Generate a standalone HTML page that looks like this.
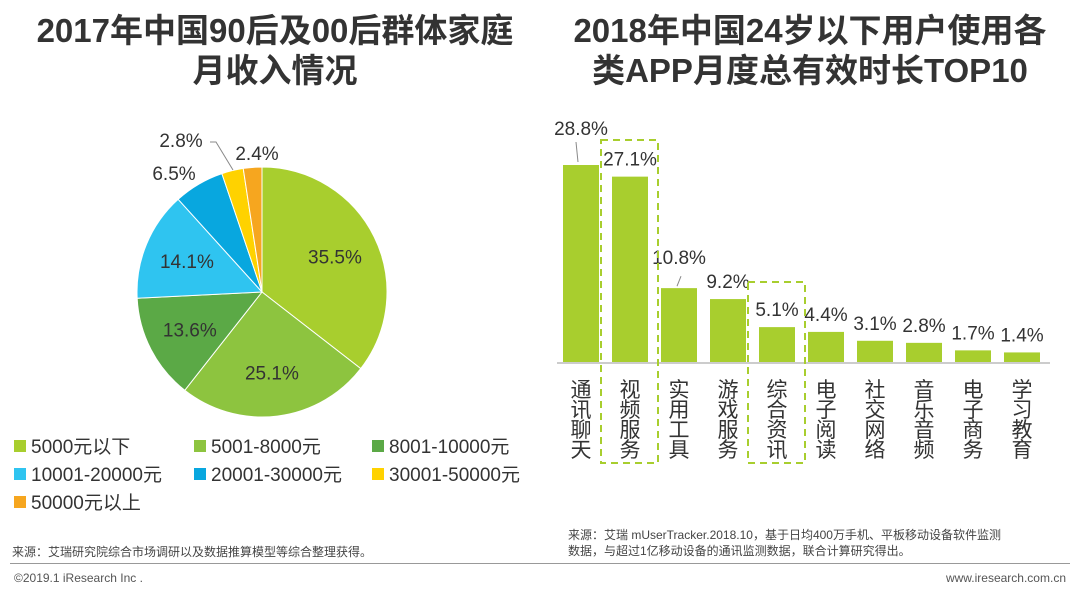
<!DOCTYPE html>
<html><head><meta charset="utf-8"><style>
body{margin:0;width:1080px;height:595px;background:#fff;font-family:"Liberation Sans","Noto Sans CJK SC",sans-serif;overflow:hidden;position:relative;color:#333}
.t{position:absolute;font-weight:bold;font-size:33px;text-align:center;line-height:40px;color:#333}
.abs{position:absolute}
</style></head><body>
<div class="t" style="left:0;top:11px;width:550px">2017年中国90后及00后群体家庭<br>月收入情况</div>
<div class="t" style="left:540px;top:11px;width:540px">2018年中国24岁以下用户使用各<br>类APP月度总有效时长TOP10</div>
<svg class="abs" style="left:0;top:0" width="1080" height="595">
<g id="pie"></g>
<g id="legend"></g>
<g id="bars"></g>
</svg>
<div class="abs" style="left:12px;top:543px;font-size:12px;color:#444">来源：艾瑞研究院综合市场调研以及数据推算模型等综合整理获得。</div>
<div class="abs" style="left:568px;top:527px;font-size:12px;color:#444;line-height:16px;width:500px">来源：艾瑞 mUserTracker.2018.10，基于日均400万手机、平板移动设备软件监测<br>数据，与超过1亿移动设备的通讯监测数据，联合计算研究得出。</div>
<div class="abs" style="left:10px;top:563px;width:1060px;height:1px;background:#999"></div>
<div class="abs" style="left:14px;top:571px;font-size:12px;color:#555">©2019.1 iResearch Inc .</div>
<div class="abs" style="right:14px;top:571px;font-size:12px;color:#555">www.iresearch.com.cn</div>
<script>
const NS='http://www.w3.org/2000/svg';
const pieLabels=['5000元以下','5001-8000元','8001-10000元','10001-20000元','20001-30000元','30001-50000元','50000元以上'];
const pieValues=[35.5,25.1,13.6,14.1,6.5,2.8,2.4];
const pieColors=['#a8ce2e','#8dc43f','#5ba946','#2fc4f0','#08a7df','#ffd200','#f6a61f'];
const barCats=['通讯聊天','视频服务','实用工具','游戏服务','综合资讯','电子阅读','社交网络','音乐音频','电子商务','学习教育'];
const barValues=[28.8,27.1,10.8,9.2,5.1,4.4,3.1,2.8,1.7,1.4];
const highlighted=[1,4];
function mk(tag,attrs,parent){const e=document.createElementNS(NS,tag);for(const k in attrs)e.setAttribute(k,attrs[k]);parent.appendChild(e);return e;}
const pie=document.getElementById('pie');
const cx=262,cy=292,r=125;
const total=pieValues.reduce((a,b)=>a+b,0);
let a0=0;
pieValues.forEach((v,i)=>{
  const a1=a0+v/total*Math.PI*2;
  const p=(a)=>[cx+r*Math.sin(a),cy-r*Math.cos(a)];
  const [x0,y0]=p(a0),[x1,y1]=p(a1);
  const path=mk('path',{d:`M${cx},${cy}L${x0},${y0}A${r},${r} 0 ${a1-a0>Math.PI?1:0} 1 ${x1},${y1}Z`,fill:pieColors[i],stroke:'#fff','stroke-width':1},pie);
  
  
  const am=(a0+a1)/2;
  let lx,ly;
  if(v>10){lx=cx+r*0.65*Math.sin(am);ly=cy-r*0.65*Math.cos(am)+7;}
  else if(i===4){lx=174;ly=180;}
  else if(i===5){lx=181;ly=147;}
  else{lx=257;ly=160;}
  const t=mk('text',{x:lx,y:ly,'text-anchor':'middle','font-size':19,fill:'#333'},pie);
  t.textContent=v.toFixed(1)+'%';
  
  
  a0=a1;
});
mk('polyline',{points:'210,142 216,142 233,170',fill:'none',stroke:'#888','stroke-width':1},pie);
const lg=document.getElementById('legend');
const lpos=[[14,446],[194,446],[372,446],[14,474],[194,474],[372,474],[14,502]];
pieLabels.forEach((l,i)=>{
  const [x,y]=lpos[i];
  const s=mk('rect',{x:x,y:y-6,width:12,height:12,fill:pieColors[i]},lg);
  
  
  const t=mk('text',{x:x+17,y:y+7,'font-size':19,fill:'#333'},lg);
  t.textContent=l;
  
  
});
const bg=document.getElementById('bars');
const base=362,x0b=563,step=49,bw=36,scale=6.84;
const xb=i=>x0b+i*step;
const yb=v=>base-v*scale;
mk('line',{x1:557,y1:base+1,x2:1050,y2:base+1,stroke:'#bbb','stroke-width':1.5},bg);
barValues.forEach((v,i)=>{
  const b=mk('rect',{x:xb(i),y:yb(v),width:bw,height:v*scale,fill:'#a8ce2e'},bg);
  
  
  let ly=yb(v)-11;
  if(i===0)ly=yb(v)-30;
  if(i===2)ly=yb(v)-24;
  const t=mk('text',{x:xb(i)+bw/2,y:ly,'text-anchor':'middle','font-size':19,fill:'#333'},bg);
  t.textContent=v.toFixed(1)+'%';
  
  
  [...barCats[i]].forEach((c,j)=>{
    const ct=mk('text',{x:xb(i)+bw/2,y:base+35+j*20,'text-anchor':'middle','font-size':21,fill:'#333'},bg);
    ct.textContent=c;
    
    
  });
});
mk('line',{x1:xb(0)+bw/2-3,y1:yb(barValues[0])-3,x2:xb(0)+bw/2-5,y2:yb(barValues[0])-23,stroke:'#888'},bg);
mk('line',{x1:xb(2)+bw/2-2,y1:yb(barValues[2])-2,x2:xb(2)+bw/2+2,y2:yb(barValues[2])-12,stroke:'#888'},bg);
highlighted.forEach(i=>{
  const h=mk('rect',{x:xb(i)-11,y:i===1?140:282,width:57,height:i===1?323:181,fill:'none',stroke:'#a8ce2e','stroke-width':2,'stroke-dasharray':'7,5'},bg);
  
  
});
</script>
</body></html>
